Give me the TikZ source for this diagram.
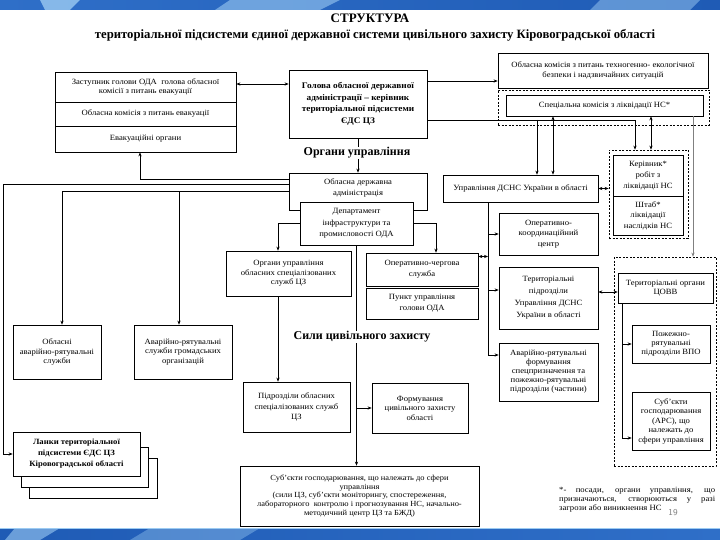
\documentclass[tikz,border=0pt]{standalone}
\usepackage{fontspec}
\setmainfont{Liberation Serif}
\newfontfamily\boxfont{Liberation Serif}[FakeStretch=1.08]
\usetikzlibrary{arrows.meta}
\definecolor{bandA}{HTML}{2F6FC8}
\definecolor{bandB}{HTML}{9CCBF2}
\definecolor{bandC}{HTML}{1F5BB5}
\begin{document}
\begin{tikzpicture}[x=1pt,y=-1pt,
  box/.style={draw, line width=0.7pt, fill=white, inner sep=1pt, align=center, font=\boxfont\fontsize{8}{9.5}\selectfont},
  dashbox/.style={draw, dashed, line width=0.7pt, dash pattern=on 2pt off 1.5pt},
  arr/.style={line width=0.6pt, -{Stealth[length=4pt,width=3.2pt]}},
  dbl/.style={line width=0.6pt, {Stealth[length=4pt,width=3.2pt]}-{Stealth[length=4pt,width=3.2pt]}},
  lbl/.style={font=\bfseries\fontsize{12}{14}\selectfont, fill=white, inner sep=1pt}
]
\useasboundingbox (0,0) rectangle (720,540);
\fill[white] (0,0) rectangle (720,540);
% slide bands
\shade[left color=bandA, right color=bandC] (0,0) rectangle (720,10);
\fill[bandB, opacity=0.8] (40,0) -- (80,0) -- (70,10) -- (45,10) -- cycle;
\fill[bandB, opacity=0.6] (230,0) -- (340,0) -- (320,10) -- (215,10) -- cycle;
\fill[bandB, opacity=0.5] (600,0) -- (700,0) -- (690,10) -- (590,10) -- cycle;
\shade[left color=bandC, right color=bandA] (0,528) rectangle (720,540);
\fill[bandB, opacity=0.6] (15,528) -- (60,528) -- (40,540) -- (5,540) -- cycle;
\fill[bandB, opacity=0.4] (150,528) -- (260,528) -- (240,540) -- (130,540) -- cycle;
\draw[bandB, line width=1pt] (0,528) -- (720,528);

% titles
\node[font=\bfseries\fontsize{13}{15}\selectfont] (title) at (370,18) {СТРУКТУРА};
\node[font=\bfseries\fontsize{12.7}{14}\selectfont] (subtitle) at (375,35) {територіальної підсистеми єдиної державної системи цивільного захисту Кіровоградської області};

% coordinates for vertical runs
\coordinate (x3) at (3,0);
\coordinate (x62) at (62,0);
\coordinate (x140) at (140,0);
\coordinate (x179) at (179,0);
\coordinate (x278) at (278,0);
\coordinate (x436) at (436,0);
\coordinate (x488) at (488,0);
\coordinate (x553) at (553,0);
\coordinate (x651) at (651,0);
\coordinate (x693) at (693,0);
\coordinate (x622) at (622,0);
\coordinate (y292) at (0,292);

% dashed groups
\node[dashbox, minimum width=211pt, minimum height=35pt] (specfit) at (603.5,107.5) {};
\node[dashbox, minimum width=79pt, minimum height=88pt] (kerfit) at (648.5,194) {};
\node[dashbox, minimum width=102pt, minimum height=209pt] (covvfit) at (665,361.5) {};

% evacuation stack
\node[box, minimum width=181pt, minimum height=30pt] (evac1) at (145.5,87) {Заступник голови ОДА\ \ голова обласної\\комісії з питань евакуації};
\node[box, minimum width=181pt, minimum height=24pt] (evac2) at (145.5,114) {Обласна комісія з питань евакуації};
\node[box, minimum width=181pt, minimum height=26pt] (evac3) at (145.5,139) {Евакуаційні органи};

\node[box, font=\boxfont\bfseries\fontsize{8.6}{11.5}\selectfont, minimum width=138pt, minimum height=68pt] (head) at (358,104) {Голова обласної державної\\адміністрації – керівник\\територіальної підсистеми\\ЄДС ЦЗ};

\node[box, minimum width=210pt, minimum height=35pt] (tek) at (603,70.5) {Обласна комісія з питань техногенно- екологічної\\безпеки і надзвичайних ситуацій};
\node[box, minimum width=197pt, minimum height=21pt] (spec) at (604.5,105.5) {Спеціальна комісія з ліквідації НС*};

\node[box, minimum width=138pt, minimum height=37pt] (oda) at (358,191.5) {};
\node[font=\boxfont\fontsize{8}{11.5}\selectfont, align=center, inner sep=0pt] (odat) at (358,188) {Обласна державна\\адміністрація};
\node[box, fill=white, font=\boxfont\fontsize{8}{11.5}\selectfont, minimum width=113pt, minimum height=43pt] (dept) at (356.5,223.5) {Департамент\\інфраструктури та\\промисловості ОДА};

\node[box, minimum width=125pt, minimum height=45pt] (osp) at (288.5,273.5) {Органи управління\\обласних спеціалізованих\\служб ЦЗ};
\node[box, font=\boxfont\fontsize{8}{11}\selectfont, minimum width=112pt, minimum height=33pt] (och) at (422,269.5) {Оперативно-чергова\\служба};
\node[box, font=\boxfont\fontsize{8}{11}\selectfont, minimum width=112pt, minimum height=31pt] (pu) at (422,303.5) {Пункт управління\\голови ОДА};

\node[box, minimum width=88pt, minimum height=54pt] (oars) at (57,352) {Обласні\\аварійно-рятувальні\\служби};
\node[box, minimum width=98pt, minimum height=54pt] (args) at (183,352) {Аварійно-рятувальні\\служби громадських\\організацій};
\node[box, font=\boxfont\fontsize{8}{10.5}\selectfont, minimum width=107pt, minimum height=50pt] (pid) at (296.5,407) {Підрозділи обласних\\спеціалізованих служб\\ЦЗ};
\node[box, minimum width=96pt, minimum height=50pt] (form) at (420,408) {Формування\\цивільного захисту\\області};
\node[box, font=\boxfont\fontsize{7.8}{8.8}\selectfont, minimum width=239pt, minimum height=60pt] (subj) at (359.5,496) {Суб’єкти господарювання, що належать до сфери\\управління\\(сили ЦЗ, суб’єкти моніторингу, спостереження,\\лабораторного\ \ контролю і прогнозування НС, начально-\\методичний центр ЦЗ та БЖД)};

\node[box, minimum width=155pt, minimum height=27pt] (dsns) at (520.5,188.5) {Управління ДСНС України в області};
\node[box, font=\boxfont\fontsize{8}{10.5}\selectfont, minimum width=99pt, minimum height=42pt] (okc) at (548.5,234) {Оперативно-\\координаційний\\центр};
\node[box, font=\boxfont\fontsize{8}{12}\selectfont, minimum width=99pt, minimum height=62pt] (tp) at (548.5,298) {Територіальні\\підрозділи\\Управління ДСНС\\України в області};
\node[box, font=\boxfont\fontsize{8}{9}\selectfont, minimum width=99pt, minimum height=58pt] (arf) at (548.5,372) {Аварійно-рятувальні\\формування\\спецпризначення та\\пожежно-рятувальні\\підрозділи (частини)};

\node[box, font=\boxfont\fontsize{8}{11}\selectfont, minimum width=70pt, minimum height=41pt] (ker) at (648,175.5) {Керівник*\\робіт з\\ліквідації НС};
\node[box, font=\boxfont\fontsize{8}{10.5}\selectfont, minimum width=70pt, minimum height=39pt] (shtab) at (648,215.5) {Штаб*\\ліквідації\\наслідків НС};

\node[box, font=\boxfont\fontsize{8}{9}\selectfont, minimum width=95pt, minimum height=30pt] (covv) at (665.5,288) {Територіальні органи\\ЦОВВ};
\node[box, font=\boxfont\fontsize{8}{9}\selectfont, minimum width=78pt, minimum height=38pt] (prp) at (671,344) {Пожежно-\\рятувальні\\підрозділи ВПО};
\node[box, font=\boxfont\fontsize{8}{9.5}\selectfont, minimum width=78pt, minimum height=58pt] (ars) at (671,421) {Суб’єкти\\господарювання\\(АРС), що\\належать до\\сфери управління};

\node[box, minimum width=128pt, minimum height=40pt] (lanky3) at (93,478) {};
\node[box, minimum width=127pt, minimum height=40pt] (lanky2) at (84.5,467) {};
\node[box, font=\boxfont\bfseries\fontsize{8}{11}\selectfont, minimum width=127pt, minimum height=44pt] (lanky) at (76.5,454) {Ланки територіальної\\підсистеми ЄДС ЦЗ\\Кіровоградської області};

% connectors
\draw[dbl] ([yshift=3]evac1.east) -- ([yshift=3]evac1.east -| head.west);
\coordinate (headE1) at ([yshift=23]head.east);
\draw[arr] (headE1) -- (headE1 -| tek.west);
\coordinate (headE2) at ([yshift=-16]head.east);
\draw[arr] (headE2) -| ([xshift=-13.5]kerfit.north);
\coordinate (j1) at (537,120);
\draw[arr] (j1) -- (j1 |- dsns.north);
\draw[dbl] (spec.south -| x553) -- (dsns.north -| x553);
\draw[dbl] (spec.south -| x651) -- (kerfit.north -| x651);
\draw[arr, gray] (spec.south -| x693) -- (covvfit.north -| x693);

\draw[arr] (head.south) -- (oda.north);
\coordinate (odaW1) at ([yshift=12.5]oda.west);
\draw[arr] (odaW1) -| (evac3.south -| x140);
\coordinate (odaW2) at ([yshift=7.5]oda.west);
\draw[arr] (odaW2) -| (x3 |- lanky.west) -- (lanky.west);
\draw[arr] (oda.west) -| (oars.north -| x62);
\draw[arr] (oda.west -| x179) -- (args.north -| x179);

\draw[arr] (dept.west) -| (osp.north -| x278);
\draw[arr] (dept.east) -| (och.north -| x436);
\draw[arr] (dept.south) -- (dept.south |- subj.north);
\draw[arr] (dept.south |- form.west) -- (form.west);
\draw[arr] (osp.south -| x278) -- (pid.north -| x278);

\coordinate (arfW) at ([yshift=17]arf.west);
\draw[arr] (dsns.south -| x488) |- (arfW);
\draw[arr] (okc.west -| x488) -- (okc.west);
\coordinate (tpW) at ([yshift=8]tp.west);
\draw[arr] (tpW -| x488) -- (tpW);
\coordinate (ochE) at ([yshift=13]och.east);
\draw[dbl] (ochE) -- (ochE -| x488);
\draw[dbl] (dsns.east) -- (dsns.east -| kerfit.west);
\draw[dbl] (tp.east |- y292) -- (covv.west |- y292);

\coordinate (arsW) at ([yshift=-17]ars.west);
\draw[arr] (covv.south -| x622) |- (arsW);
\draw[arr] (prp.west -| x622) -- (prp.west);

% section labels
\node[lbl] (lblOU) at (357,153) {Органи управління};
\node[lbl] (lblSC) at (362,337) {Сили цивільного захисту};

% footnote
\node[font=\boxfont\fontsize{8}{9}\selectfont, text width=156pt, align=justify, inner sep=0pt, anchor=north west] (note) at (559,487) {*- посади, органи управління, що\linebreak призначаються, створюються у разі\linebreak загрози або виникнення НС};
\node[font=\sffamily\fontsize{9}{10}\selectfont, text=gray] (pnum) at (673,513) {19};
\end{tikzpicture}
\end{document}
